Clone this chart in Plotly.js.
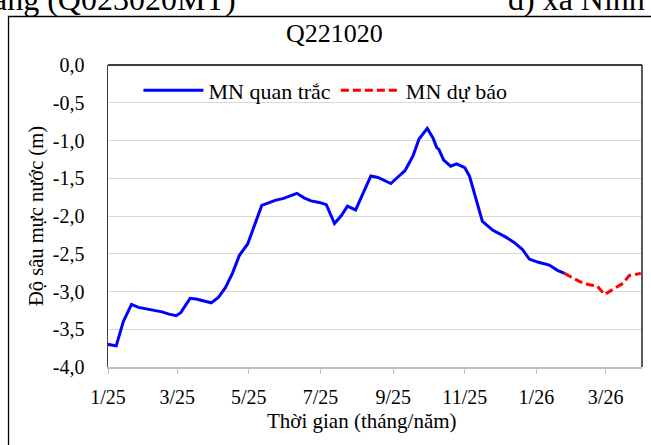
<!DOCTYPE html>
<html>
<head>
<meta charset="utf-8">
<script src="https://cdn.plot.ly/plotly-3.0.1.min.js"></script>
<style>html,body{margin:0;padding:0;background:#fff;}#chart{width:651px;height:445px;}</style>
</head>
<body>
<div id="chart"></div>
<script>
// Observed groundwater depth (MN quan trắc)
const obsDates = ['2025-01-01','2025-01-08','2025-01-14','2025-01-21','2025-01-27','2025-02-12','2025-02-16','2025-02-22','2025-02-28','2025-03-04','2025-03-12','2025-03-17','2025-03-30','2025-04-05','2025-04-11','2025-04-17','2025-04-23','2025-04-30','2025-05-06','2025-05-12','2025-05-19','2025-05-24','2025-05-30','2025-06-05','2025-06-11','2025-06-17','2025-06-23','2025-06-30','2025-07-06','2025-07-13','2025-07-19','2025-07-24','2025-07-31','2025-08-06','2025-08-13','2025-08-19','2025-08-30','2025-09-06','2025-09-11','2025-09-18','2025-09-23','2025-09-30','2025-10-05','2025-10-08','2025-10-10','2025-10-14','2025-10-20','2025-10-25','2025-11-01','2025-11-05','2025-11-10','2025-11-16','2025-11-25','2025-12-06','2025-12-13','2025-12-20','2025-12-26','2026-01-02','2026-01-12','2026-01-19','2026-01-25'];
const obsValues = [-3.70,-3.72,-3.40,-3.17,-3.21,-3.26,-3.27,-3.30,-3.32,-3.28,-3.09,-3.10,-3.15,-3.08,-2.95,-2.76,-2.52,-2.37,-2.12,-1.86,-1.82,-1.79,-1.77,-1.74,-1.70,-1.76,-1.80,-1.82,-1.85,-2.10,-1.99,-1.87,-1.92,-1.71,-1.47,-1.49,-1.57,-1.47,-1.40,-1.20,-0.98,-0.84,-0.97,-1.09,-1.12,-1.26,-1.34,-1.31,-1.36,-1.47,-1.74,-2.07,-2.19,-2.28,-2.35,-2.44,-2.57,-2.61,-2.65,-2.72,-2.76];
// Forecast (MN dự báo)
const fcDates = ['2026-01-25','2026-02-07','2026-02-15','2026-02-22','2026-02-28','2026-03-09','2026-03-16','2026-03-21','2026-03-31'];
const fcValues = [-2.76,-2.87,-2.91,-2.93,-3.04,-2.95,-2.89,-2.79,-2.76];
// Tick labels
const xTickVals = ['2025-01-01','2025-03-01','2025-05-01','2025-07-01','2025-09-01','2025-11-01','2026-01-01','2026-03-01'];
const xTickText = ['1/25','3/25','5/25','7/25','9/25','11/25','1/26','3/26'];
const yTickVals = [0,-0.5,-1,-1.5,-2,-2.5,-3,-3.5,-4];
const yTickText = ['0,0','-0,5','-1,0','-1,5','-2,0','-2,5','-3,0','-3,5','-4,0'];

const FONT = 'Liberation Serif';

const traces = [
  {x: obsDates, y: obsValues, type: 'scatter', mode: 'lines', name: 'MN quan trắc',
   line: {color: '#0000FF', width: 3}},
  {x: fcDates, y: fcValues, type: 'scatter', mode: 'lines', name: 'MN dự báo',
   line: {color: '#FF0000', width: 3, dash: '8px,4px'}}
];

const layout = {
  width: 651, height: 445,
  margin: {l: 108, r: 9, t: 65, b: 78},
  paper_bgcolor: '#ffffff', plot_bgcolor: '#ffffff',
  font: {family: FONT, color: '#000', size: 20},
  showlegend: true,
  title: {text: 'Q221020', font: {family: FONT, size: 26, color: '#000'},
          xref: 'paper', yref: 'paper', x: 0.424, y: 1.06, xanchor: 'center', yanchor: 'middle'},
  legend: {orientation: 'h', x: 0.057, y: 0.985, xanchor: 'left', yanchor: 'top',
           font: {family: FONT, size: 22, color: '#000'}, bgcolor: 'rgba(0,0,0,0)',
           itemwidth: 60, traceorder: 'normal'},
  xaxis: {type: 'date', range: ['2025-01-01','2026-04-01'],
          tickvals: xTickVals, ticktext: xTickText,
          ticks: 'outside', ticklen: 5, tickcolor: '#bfbfbf', tickwidth: 1,
          ticklabelstandoff: 6,
          showline: true, linecolor: '#bfbfbf', linewidth: 1.5,
          showgrid: false, zeroline: false, fixedrange: true,
          tickfont: {family: FONT, size: 20, color: '#000'}},
  yaxis: {range: [-4, 0], tickvals: yTickVals, ticktext: yTickText,
          ticks: '', ticklabelstandoff: 18,
          showline: true, linecolor: '#404040', linewidth: 1.5,
          showgrid: true, gridcolor: '#d9d9d9', gridwidth: 1, zeroline: false, fixedrange: true,
          tickfont: {family: FONT, size: 20, color: '#000'},
          title: {text: 'Độ sâu mực nước (m)', font: {family: FONT, size: 20.5, color: '#000'}, standoff: 3}},
  annotations: [
    {text: 'Thời gian (tháng/năm)', xref: 'paper', yref: 'paper', x: 0.4757, y: -0.1788,
     xanchor: 'center', yanchor: 'middle', showarrow: false,
     font: {family: FONT, size: 21, color: '#000'}},
    {text: 'ang (Q023020MT)', xref: 'paper', yref: 'paper', x: (-9 - 108) / 534, y: (367 - 19) / 302,
     xanchor: 'left', yanchor: 'bottom', showarrow: false,
     font: {family: FONT, size: 32, color: '#000'}},
    {text: 'd) xã Ninh', xref: 'paper', yref: 'paper', x: (506 - 108) / 534, y: (367 - 19) / 302,
     xanchor: 'left', yanchor: 'bottom', showarrow: false,
     font: {family: FONT, size: 32, color: '#000'}}
  ],
  shapes: [
    {type: 'rect', xref: 'paper', yref: 'paper', x0: (8.5 - 108) / 534, x1: 1.3, y0: -0.6, y1: (367 - 16.5) / 302,
     line: {color: '#000', width: 1.3}, fillcolor: 'rgba(0,0,0,0)', layer: 'below'},
    {type: 'line', xref: 'paper', yref: 'paper', x0: 0, x1: 1, y0: 1, y1: 1, line: {color: '#000', width: 1.3}},
    {type: 'line', xref: 'paper', yref: 'paper', x0: 1, x1: 1, y0: 0, y1: 1, line: {color: '#000', width: 1.3}}
  ]
};

Plotly.newPlot('chart', traces, layout, {displayModeBar: false, staticPlot: true});
</script>
</body>
</html>
